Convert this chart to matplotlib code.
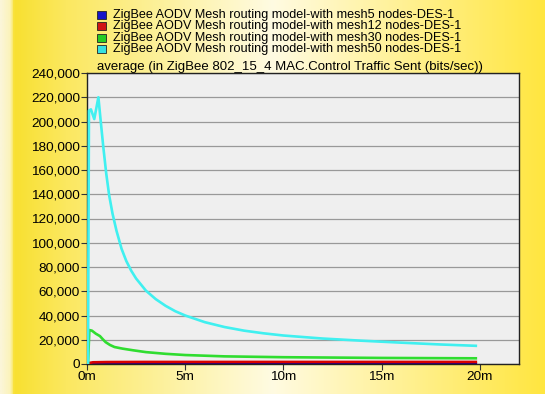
import numpy as np
import matplotlib.pyplot as plt
from matplotlib.colors import LinearSegmentedColormap
from matplotlib.patches import Rectangle

# Series (time in minutes, traffic in bits/sec)
t_mesh5 = [0, 0.1, 0.5, 2, 5, 10, 15, 19.8]
v_mesh5 = [0, 150, 250, 250, 250, 250, 250, 250]

t_mesh12 = [0, 0.1, 0.3, 1, 3, 5, 10, 15, 19.8]
v_mesh12 = [0, 800, 1400, 1600, 1700, 1700, 1700, 1700, 1700]

t_mesh30 = [0, 0.05, 0.12, 0.25, 0.45, 0.66, 0.8, 0.95, 1.17, 1.4, 1.8, 2.35,
            3, 4, 5, 7, 10, 15, 19.8]
v_mesh30 = [0, 0, 28000, 27500, 25000, 23000, 20500, 18000, 15700, 14000,
            12700, 11300, 9800, 8400, 7400, 6300, 5600, 5000, 4700]

t_mesh50 = [0, 0.05, 0.1, 0.2, 0.37, 0.58, 0.7, 0.83, 0.98, 1.13, 1.3, 1.5,
            1.76, 2.0, 2.25, 2.5, 3.0, 3.5, 4.0, 4.5, 5.0, 6, 7, 8, 9, 10, 12,
            14, 16, 18, 19.8]
v_mesh50 = [0, 0, 209000, 210000, 202000, 220000, 200000, 179000, 157000,
            139000, 124000, 110000, 95000, 85000, 77000, 70500, 60500, 53500,
            48000, 43500, 40000, 34500, 30500, 27500, 25300, 23500, 21000,
            19200, 17600, 16100, 15000]

labels = ["ZigBee AODV Mesh routing model-with mesh5 nodes-DES-1",
          "ZigBee AODV Mesh routing model-with mesh12 nodes-DES-1",
          "ZigBee AODV Mesh routing model-with mesh30 nodes-DES-1",
          "ZigBee AODV Mesh routing model-with mesh50 nodes-DES-1"]
line_colors = ["#000090", "#d80000", "#30dd30", "#40f0f0"]
box_colors = ["#1515c8", "#d01515", "#25cc25", "#35e0e0"]

x_ticks = [0, 5, 10, 15, 20]
x_labels = ["0m", "5m", "10m", "15m", "20m"]
y_ticks = list(range(0, 240001, 20000))

plt.rcParams['font.family'] = ['Liberation Sans', 'DejaVu Sans']

fig = plt.figure(figsize=(5.45, 3.94), dpi=100)

# yellow gradient background
bg = fig.add_axes([0, 0, 1, 1], zorder=-10)
bg_cmap = LinearSegmentedColormap.from_list(
    "bg", [(0.0, "#fbf6d8"), (0.018, "#fbf3b8"), (0.024, "#f8e030"),
           (0.12, "#fbe860"), (0.5, "#fffbe2"), (1.0, "#ffe640")])
bg.imshow(np.linspace(0, 1, 256)[None, :], aspect='auto', cmap=bg_cmap,
          extent=[0, 1, 0, 1])
bg.set_axis_off()

ax = fig.add_axes([87 / 545, 30 / 394, 432 / 545, 291 / 394])
ax.set_facecolor("#efefef")

series = [(t_mesh5, v_mesh5), (t_mesh12, v_mesh12),
          (t_mesh30, v_mesh30), (t_mesh50, v_mesh50)]
for (t, v), c in zip(series, line_colors):
    ax.plot(t, v, color=c, lw=1.9, zorder=3, solid_joinstyle='round')

ax.set_xlim(0, 22)
ax.set_ylim(0, 240000)
ax.set_xticks(x_ticks)
ax.set_xticklabels(x_labels)
ax.set_yticks(y_ticks)
ax.set_yticklabels([f"{y:,}" for y in y_ticks])
ax.tick_params(labelsize=9.7, length=4, width=0.8, color="#333333", pad=1)
ax.grid(axis='y', color="#999999", lw=0.9)
ax.set_axisbelow(True)
for s in ax.spines.values():
    s.set_color("#222222")
    s.set_linewidth(1.0)

fig.text(290 / 545, 1 - 67 / 394,
         "average (in ZigBee 802_15_4 MAC.Control Traffic Sent (bits/sec))",
         ha='center', va='center', fontsize=9.5)

# legend
for i, (lab, bc) in enumerate(zip(labels, box_colors)):
    yc = 1 - (15 + i * 11.4) / 394
    fig.patches.append(Rectangle((97 / 545, yc - 4 / 394), 9 / 545, 8 / 394,
                                 transform=fig.transFigure, facecolor=bc,
                                 edgecolor="#222222", lw=0.6))
    fig.text(113 / 545, yc, lab, ha='left', va='center', fontsize=9.1)

fig.savefig("out.png", dpi=100)
